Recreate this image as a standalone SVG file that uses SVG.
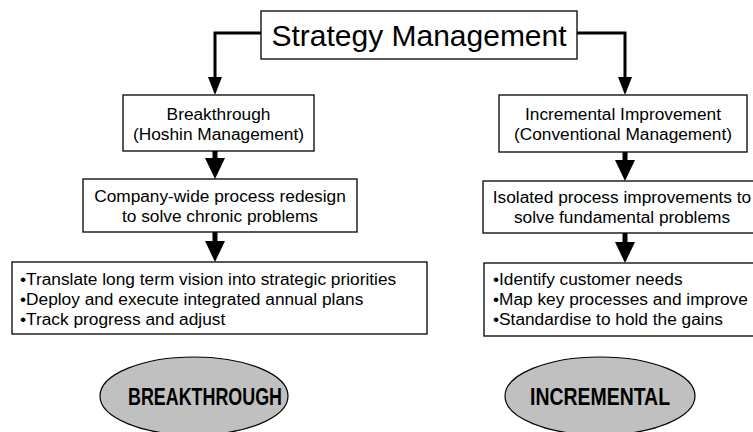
<svg xmlns="http://www.w3.org/2000/svg" width="753" height="432" viewBox="0 0 753 432">
<style>
  .box { fill: #ffffff; stroke: #000000; stroke-width: 1.3; }
  .oval { fill: #c0c0c0; stroke: #000000; stroke-width: 1.2; }
  .t { font-family: "Liberation Sans", Arial, sans-serif; font-size: 17.3px; fill: #000000; }
  .c { text-anchor: middle; }
  .title { font-family: "Liberation Sans", Arial, sans-serif; font-size: 30px; fill: #000000; text-anchor: middle; }
  .big { font-family: "Liberation Sans", Arial, sans-serif; font-size: 23px; font-weight: bold; fill: #000000; text-anchor: middle; }
  .conn { fill: none; stroke: #000000; stroke-width: 3; }
  .stem { fill: none; stroke: #000000; stroke-width: 5; }
</style>
<defs>
  <marker id="arrowS" markerUnits="userSpaceOnUse" viewBox="0 0 18 14" refX="0" refY="7" markerWidth="18" markerHeight="14" orient="auto">
    <path d="M0,0 L18,7 L0,14 z" fill="#000000"/>
  </marker>
  <marker id="arrowB" markerUnits="userSpaceOnUse" viewBox="0 0 21 20" refX="0" refY="10" markerWidth="21" markerHeight="20" orient="auto">
    <path d="M0,0 L21,10 L0,20 z" fill="#000000"/>
  </marker>
</defs>

<g id="connectors">
  <path class="conn" d="M261,33 H215 V77" marker-end="url(#arrowS)"/>
  <path class="conn" d="M577,33 H625 V77" marker-end="url(#arrowS)"/>
  <path class="stem" d="M215,151 V158" marker-end="url(#arrowB)"/>
  <path class="stem" d="M215,232 V241" marker-end="url(#arrowB)"/>
  <path class="stem" d="M625,152 V160" marker-end="url(#arrowB)"/>
  <path class="stem" d="M625,233 V242" marker-end="url(#arrowB)"/>
</g>

<g id="strategy">
  <rect class="box" x="261" y="11" width="316" height="48"/>
  <text class="title" x="419" y="46">Strategy Management</text>
</g>

<g id="breakthrough">
  <rect class="box" x="123" y="95" width="191" height="56"/>
  <text class="t c" x="218.5" y="120">Breakthrough</text>
  <text class="t c" x="218.5" y="140">(Hoshin Management)</text>
</g>

<g id="company-wide">
  <rect class="box" x="83" y="179" width="274" height="53"/>
  <text class="t c" x="220" y="202">Company-wide process redesign</text>
  <text class="t c" x="220" y="222">to solve chronic problems</text>
</g>

<g id="breakthrough-actions">
  <rect class="box" x="12" y="262" width="415" height="72"/>
  <text class="t" x="20" y="285">•Translate long term vision into strategic priorities</text>
  <text class="t" x="20" y="305">•Deploy and execute integrated annual plans</text>
  <text class="t" x="20" y="325">•Track progress and adjust</text>
</g>

<g id="incremental">
  <rect class="box" x="499" y="95" width="248" height="57"/>
  <text class="t c" x="623" y="120">Incremental Improvement</text>
  <text class="t c" x="623" y="140">(Conventional Management)</text>
</g>

<g id="isolated">
  <rect class="box" x="483" y="181" width="290" height="52"/>
  <text class="t c" x="622" y="203">Isolated process improvements to</text>
  <text class="t c" x="622" y="223">solve fundamental problems</text>
</g>

<g id="incremental-actions">
  <rect class="box" x="484" y="263" width="290" height="73"/>
  <text class="t" x="493" y="285">•Identify customer needs</text>
  <text class="t" x="493" y="305">•Map key processes and improve</text>
  <text class="t" x="493" y="325">•Standardise to hold the gains</text>
</g>

<g id="breakthrough-oval">
  <ellipse class="oval" cx="194" cy="396" rx="94" ry="39"/>
  <text class="big" x="205" y="405" textLength="154" lengthAdjust="spacingAndGlyphs">BREAKTHROUGH</text>
</g>

<g id="incremental-oval">
  <ellipse class="oval" cx="600" cy="396" rx="95" ry="39"/>
  <text class="big" x="600" y="405" textLength="140" lengthAdjust="spacingAndGlyphs">INCREMENTAL</text>
</g>
</svg>
